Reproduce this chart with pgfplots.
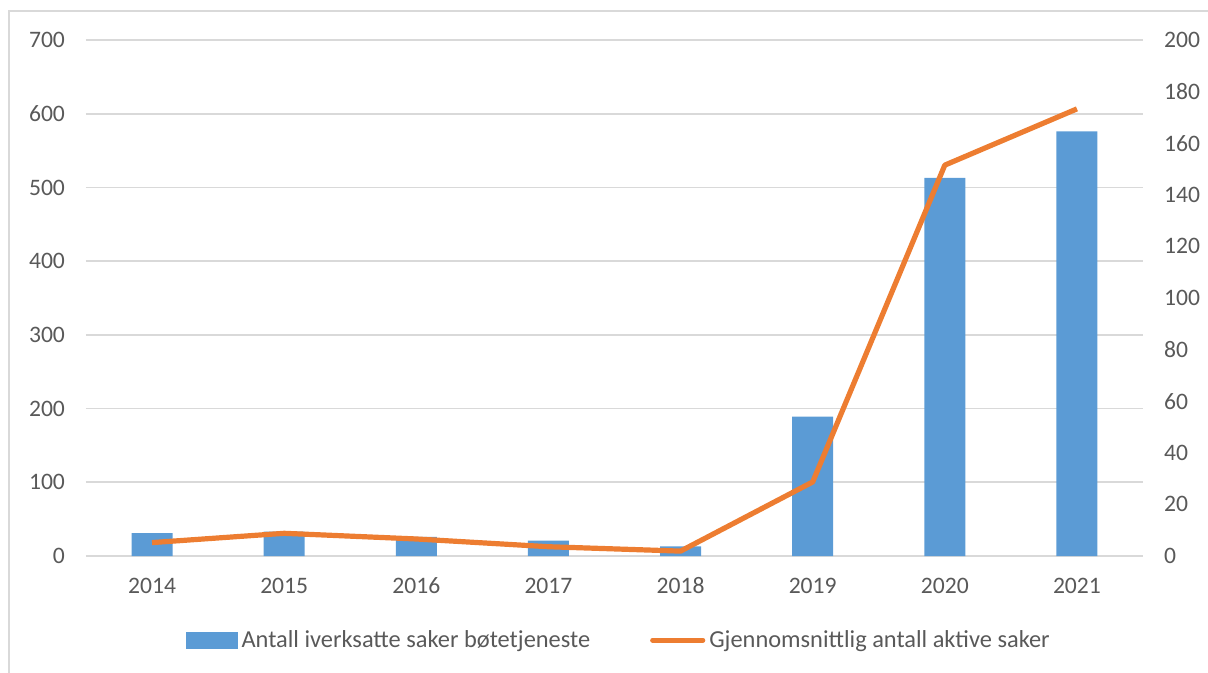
\documentclass[border=0pt]{standalone}
\usepackage{fontspec}
\setmainfont{Carlito}
\usepackage{pgfplots}
\pgfplotsset{compat=1.18}
\definecolor{barblue}{HTML}{5B9BD5}
\definecolor{lineorange}{HTML}{ED7D31}
\definecolor{gridgrey}{HTML}{D9D9D9}
\definecolor{txtgrey}{HTML}{595959}

\pgfplotsset{
  common/.style={
    scale only axis,
    width=528.5pt, height=258pt,
    at={(43pt,-278pt)}, anchor=south west,
    xmin=-0.5, xmax=7.5,
    ymin=0,
    tick style={draw=none},
    ticklabel style={font=\fontsize{11.8}{14}\selectfont, text=txtgrey},
    /pgf/number format/assume math mode=true,
    scaled y ticks=false,
  },
}

\begin{document}
\begin{tikzpicture}
\path[use as bounding box] (0,0) rectangle (604pt,-336.5pt);
\draw[gridgrey, line width=0.6pt] (4.5pt,-340pt) -- (4.5pt,-5.5pt) -- (610pt,-5.5pt);

% bars, left axis
\begin{axis}[common,
  ymax=700, ytick={0,100,...,700},
  ymajorgrids, grid style={gridgrey, line width=0.8pt},
  axis y line*=left, axis x line*=bottom,
  axis line style={draw=none},
  xtick=data,
  xticklabels={2014,2015,2016,2017,2018,2019,2020,2021},
  yticklabel style={xshift=-7pt},
  xticklabel style={yshift=-7pt, text height=8pt, text depth=0pt},
]
\addplot[ybar, bar width=20.5pt, fill=barblue, draw=none]
  coordinates {(0,31) (1,33) (2,26) (3,21) (4,13) (5,189) (6,513) (7,576)};
\end{axis}

% line, right axis
\begin{axis}[common,
  ymax=200, ytick={0,20,...,200},
  axis y line*=right, axis x line=none,
  axis line style={draw=none},
  yticklabel style={anchor=west, xshift=7pt},
  legend columns=2,
  legend style={at={(0.505,-0.163)}, anchor=center, draw=none, fill=none,
    font=\fontsize{12.2}{14}\selectfont, text=txtgrey,
    /tikz/every even column/.append style={column sep=28pt}},
  legend cell align=left,
]
\addlegendimage{legend image code/.code={\fill[barblue] (0pt,-4pt) rectangle (25.5pt,4pt);}}
\addlegendentry{Antall iverksatte saker bøtetjeneste}
\addplot[lineorange, line width=2.6pt, line join=round,
  legend image code/.code={\draw[lineorange, line width=2.6pt, line cap=round] (1pt,0pt) -- (26pt,0pt);}]
  coordinates {(0,5.2) (1,8.8) (2,6.6) (3,3.6) (4,1.9) (5,28.7) (6,151.5) (7,173.3)};
\addlegendentry{Gjennomsnittlig antall aktive saker}
\end{axis}
\end{tikzpicture}
\end{document}
